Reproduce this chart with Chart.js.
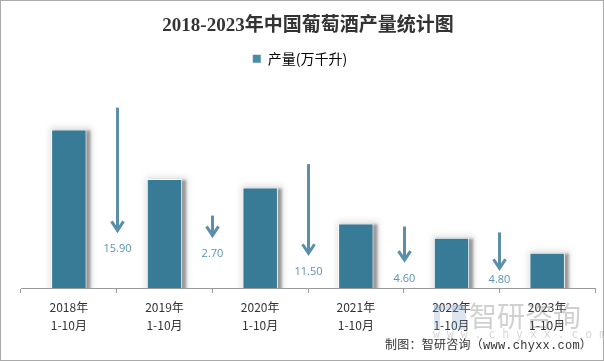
<!DOCTYPE html>
<html>
<head>
<meta charset="utf-8">
<style>
    html, body { margin: 0; padding: 0; background: #fff; }
    #wrap { width: 604px; height: 361px; position: relative; }
</style>
<script src="https://cdn.jsdelivr.net/npm/chart.js@4"></script>
</head>
<body>
<div id="wrap"><canvas id="chart" width="604" height="361"></canvas></div>
<script>
// Data
const years = ['2018年', '2019年', '2020年', '2021年', '2022年', '2023年'];
const period = '1-10月';
const output = [50.8, 34.9, 32.2, 20.7, 16.1, 11.3];
const drops = [15.9, 2.7, 11.5, 4.6, 4.8];
const arrowFrom = [57.8, 23.2, 39.7, 19.7, 17.8];
const arrowTo = [17.8, 16.2, 10.5, 8.3, 5.7];
const dropLabelAt = [12.4, 10.8, 5.1, 2.9, 2.5];

const CJK = '"Noto Sans CJK SC", "Noto Sans", sans-serif';
const BAR = '#387b96';
const ARROW = '#5b8fa9';

// white page with the thin grey frame
const frame = {
    id: 'frame',
    beforeDraw(chart) {
        const ctx = chart.ctx;
        ctx.save();
        ctx.fillStyle = '#fff';
        ctx.fillRect(0, 0, chart.width, chart.height);
        ctx.strokeStyle = '#aaa';
        ctx.lineWidth = 1;
        ctx.strokeRect(0.5, 0.5, chart.width - 1, chart.height - 1);
        ctx.restore();
    }
};

// the legend sits a little left of where the library centres it
const legendShift = {
    id: 'legendShift',
    afterLayout(chart) {
        chart.legend.left -= 8;
        chart.legend.right -= 8;
    }
};

// soft shadow behind the bars, stops at the axis
const barShadow = {
    id: 'barShadow',
    beforeDatasetsDraw(chart) {
        const ctx = chart.ctx;
        const area = chart.chartArea;
        ctx.save();
        ctx.beginPath();
        ctx.rect(area.left, area.top, area.right - area.left, area.bottom - area.top);
        ctx.clip();
        chart.getDatasetMeta(0).data.forEach(bar => {
            const w = bar.width;
            ctx.filter = 'blur(3px)';
            ctx.fillStyle = 'rgba(0,0,0,0.12)';
            ctx.fillRect(bar.x - w / 2 - 1, bar.y - 2, w + 6, bar.base - bar.y + 6);
            ctx.filter = 'blur(1px)';
            ctx.fillStyle = 'rgba(0,0,0,0.32)';
            ctx.fillRect(bar.x - w / 2 + 2, bar.y + 1, w + 2, bar.base - bar.y + 6);
        });
        ctx.restore();
    }
};

// the arrows and their values between two bars
const dropArrows = {
    id: 'dropArrows',
    afterDatasetsDraw(chart) {
        const ctx = chart.ctx;
        const x = chart.scales.x;
        const y = chart.scales.y;
        ctx.save();
        drops.forEach((d, i) => {
            const px = Math.round((x.getPixelForValue(i) + x.getPixelForValue(i + 1)) / 2) + 0.5;
            const top = y.getPixelForValue(arrowFrom[i]);
            const tip = y.getPixelForValue(arrowTo[i]);
            ctx.strokeStyle = ARROW;
            ctx.lineWidth = 3;
            ctx.beginPath();
            ctx.moveTo(px, top);
            ctx.lineTo(px, tip - 2);
            ctx.stroke();
            ctx.beginPath();
            ctx.moveTo(px - 6, tip - 11);
            ctx.lineTo(px, tip - 2);
            ctx.lineTo(px + 6, tip - 11);
            ctx.stroke();
            ctx.fillStyle = '#5b93b3';
            ctx.font = '11px "Open Sans", ' + CJK;
            ctx.textAlign = 'center';
            ctx.textBaseline = 'middle';
            ctx.fillText(d.toFixed(2), px, y.getPixelForValue(dropLabelAt[i]));
        });
        ctx.restore();
    }
};

// watermark and source line
const credits = {
    id: 'credits',
    afterDraw(chart) {
        const ctx = chart.ctx;
        ctx.save();
        ctx.textBaseline = 'middle';
        ctx.textAlign = 'left';
        ctx.fillStyle = 'rgba(120,150,200,0.25)';
        ctx.fillRect(434, 305, 32, 5);
        ctx.fillRect(434, 305, 6, 25);
        ctx.fillRect(452, 305, 14, 25);
        ctx.fillStyle = 'rgba(110,110,110,0.32)';
        ctx.font = '28px ' + CJK;
        ctx.fillText('智研咨询', 469, 316);
        ctx.font = '11.5px "DejaVu Sans Mono", monospace';
        ctx.fillStyle = 'rgba(110,110,110,0.28)';
        ctx.fillText('w w w . c h y x x . c o m', 433, 335);
        ctx.fillStyle = '#333';
        ctx.font = '12px "Liberation Mono", ' + CJK;
        ctx.letterSpacing = '0.25px';
        ctx.fillText('制图：智研咨询（www.chyxx.com）', 385, 346);
        ctx.restore();
    }
};

new Chart(document.getElementById('chart'), {
    type: 'bar',
    data: {
        labels: years.map(year => [year, period]),
        datasets: [{
            label: '产量(万千升)',
            data: output,
            backgroundColor: BAR,
            borderColor: '#fff',
            borderWidth: 1,
            barPercentage: 0.37,
            categoryPercentage: 1
        }]
    },
    plugins: [frame, legendShift, barShadow, dropArrows, credits],
    options: {
        responsive: false,
        animation: false,
        layout: { padding: { left: 21, right: 9, bottom: 0, top: 0 } },
        plugins: {
            title: {
                display: true,
                text: '2018-2023年中国葡萄酒产量统计图',
                color: '#333',
                font: { family: '"Liberation Serif", ' + CJK, size: 19, weight: 'bold' },
                padding: { top: 15, bottom: 8 }
            },
            legend: {
                display: true,
                position: 'top',
                labels: {
                    boxWidth: 8,
                    boxHeight: 8,
                    padding: 6,
                    color: '#444',
                    font: { family: CJK, size: 14 },
                    generateLabels: () => [{ text: '产量(万千升)', fillStyle: '#4a8ba6', strokeStyle: '#4a8ba6', lineWidth: 0 }]
                },
                onClick: null
            },
            tooltip: { enabled: false }
        },
        scales: {
            x: {
                offset: true,
                grid: { drawOnChartArea: false, drawTicks: true, tickLength: 5, color: '#999', offset: true },
                border: { color: '#999' },
                ticks: { color: '#333', font: { family: CJK, size: 12, lineHeight: 1.5 }, padding: 5, maxRotation: 0, autoSkip: false },
                afterFit(scale) { scale.height = 73; }
            },
            y: {
                display: false,
                min: 0,
                max: 68
            }
        }
    }
});
</script>
</body>
</html>
